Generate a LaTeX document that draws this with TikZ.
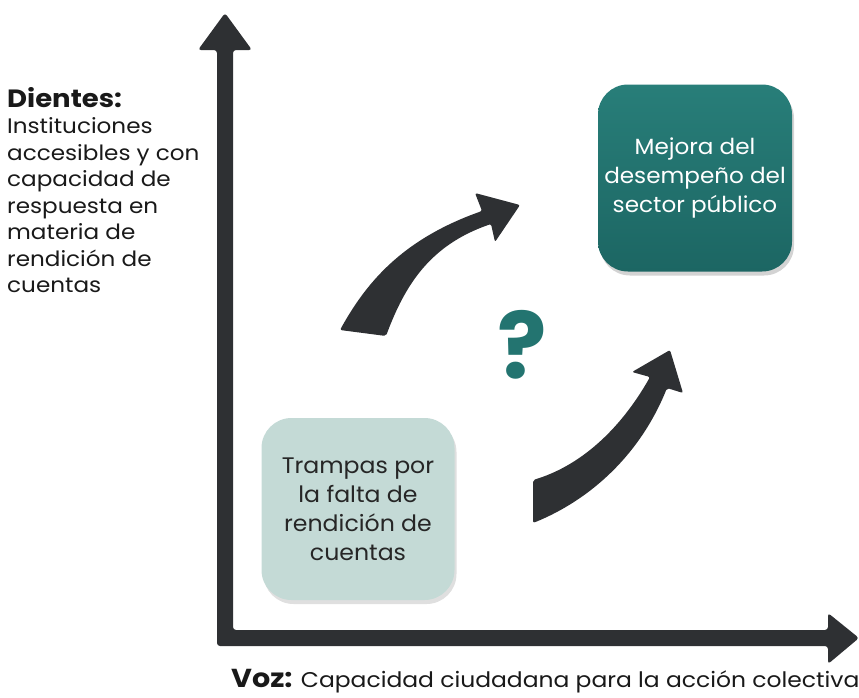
\documentclass[tikz,border=0pt]{standalone}
\usepackage{fontspec}
\setmainfont{Poppins}
\newfontfamily\widefont[FakeStretch=1.1]{Poppins}
\newfontfamily\boxfont[FakeStretch=1.05]{Poppins}
\usetikzlibrary{shadows}
\definecolor{axisgray}{HTML}{2E3033}
\definecolor{tealdark}{HTML}{1C6663}
\definecolor{tealmid}{HTML}{287E79}
\definecolor{teallight}{HTML}{C4DAD6}
\definecolor{qteal}{HTML}{237470}
\tikzset{
  arrowshape/.style={fill=axisgray, rounded corners=3pt},
  boxdark/.style={rounded corners=30pt, minimum width=194pt, minimum height=187pt,
    top color=tealmid, bottom color=tealdark, text=white, align=center,
    font=\boxfont\fontsize{22}{29}\selectfont,
    drop shadow={opacity=0.35, shadow xshift=2pt, shadow yshift=-4pt}},
  boxlight/.style={rounded corners=30pt, minimum width=193pt, minimum height=182pt,
    fill=teallight, text=black!85, align=center,
    font=\boxfont\fontsize{22.5}{29}\selectfont,
    drop shadow={opacity=0.25, shadow xshift=2pt, shadow yshift=-4pt}},
  sidetext/.style={align=left, inner sep=0pt, text=black!90,
    font=\widefont\fontsize{21}{26.5}\selectfont},
}
\begin{document}
\begin{tikzpicture}[x=1pt,y=-1pt]
\useasboundingbox (0,0) rectangle (859,697);
% axes
\fill[arrowshape] (217,50) -- (198,50) -- (225,13) -- (252,50) -- (233,50)
  -- (233,630) -- (828,630) -- (828,613) -- (859,638) -- (828,664) -- (828,646)
  -- (217,646) -- cycle;
\coordinate (origin) at (225,638);
% boxes
\node[boxdark] (mejora) at (695,178) {Mejora del\\desempeño del\\sector público};
\node[boxlight] (trampas) at (358,509) {Trampas por\\la falta de\\rendición de\\cuentas};
% curved arrows
\fill[arrowshape, rounded corners=2pt] (340,330) .. controls (365,285) and (400,240) .. (482,211)
  -- (475,193) -- (520,205) -- (495,242) -- (491,224)
  .. controls (430,245) and (405,285) .. (386,336) -- cycle;
\fill[arrowshape, rounded corners=2pt] (533,480) .. controls (580,466) and (620,430) .. (650,377)
  -- (632,372) -- (670,350) -- (683,393) -- (667,388)
  .. controls (640,455) and (590,500) .. (533,523) -- cycle;
% question mark
\node[text=qteal, font=\fontsize{92}{92}\selectfont\bfseries, inner sep=0pt] (q) at (522,345) {?};
% labels
\node[sidetext, anchor=north west] (dientes) at (7,87)
  {{\fontsize{25}{26.5}\selectfont\bfseries Dientes:}\\Instituciones\\accesibles y con\\capacidad de\\respuesta en\\materia de\\rendición de\\cuentas};
\node[inner sep=0pt, anchor=base west, text=black!90, font=\widefont\fontsize{21.3}{24}\selectfont] (voz) at (231,687)
  {{\fontsize{26}{26}\selectfont\bfseries Voz:} Capacidad ciudadana para la acción colectiva};
\end{tikzpicture}
\end{document}
